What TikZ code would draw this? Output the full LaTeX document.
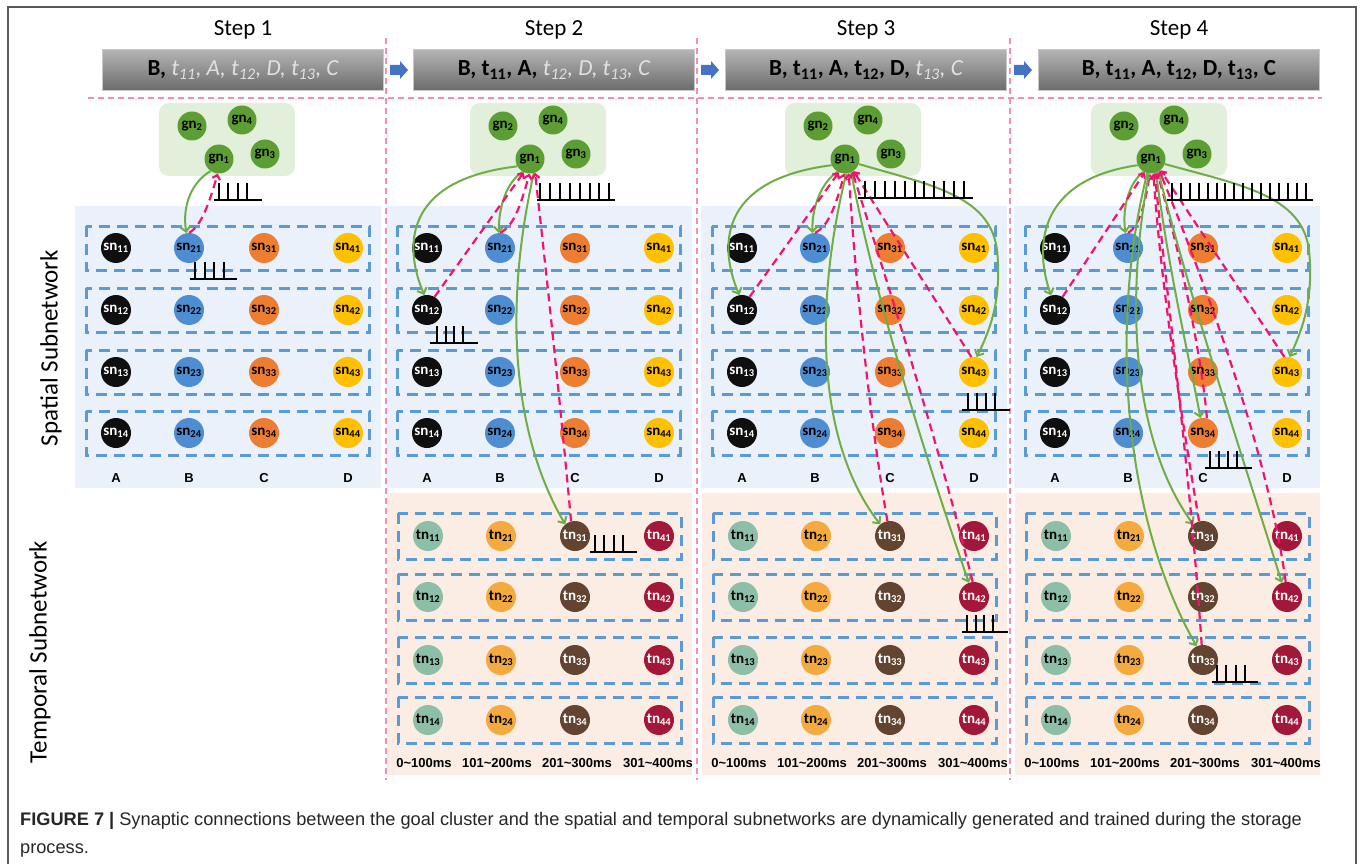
\documentclass[tikz,border=0pt]{standalone}
\usepackage{fontspec}
\setmainfont{Carlito}
\newfontfamily\arialf{Liberation Sans}
\newfontfamily\capf{Liberation Sans}
\usetikzlibrary{arrows.meta}
\definecolor{framegray}{RGB}{90,90,90}
\definecolor{divpink}{RGB}{244,143,177}
\definecolor{conpink}{RGB}{240,20,110}
\definecolor{congreen}{RGB}{112,173,71}
\definecolor{arrowblue}{RGB}{68,114,196}
\definecolor{rowblue}{RGB}{91,155,213}
\definecolor{spbg}{RGB}{234,241,250}
\definecolor{tmbg}{RGB}{251,237,228}
\definecolor{gclbg}{RGB}{226,239,218}
\definecolor{gngreen}{RGB}{92,158,52}
\definecolor{snblack}{RGB}{15,15,15}
\definecolor{snblue}{RGB}{78,141,210}
\definecolor{snorange}{RGB}{237,125,49}
\definecolor{snyellow}{RGB}{255,192,0}
\definecolor{tnteal}{RGB}{140,190,168}
\definecolor{tnamber}{RGB}{244,170,62}
\definecolor{tnbrown}{RGB}{98,68,48}
\definecolor{tncrimson}{RGB}{163,24,58}
\definecolor{barTop}{RGB}{180,180,180}
\definecolor{barBot}{RGB}{108,108,108}
\definecolor{barEdge}{RGB}{200,200,200}
\definecolor{bartxt}{RGB}{225,225,225}
\newcommand\lighttxt[1]{{\color{bartxt}\itshape #1}}
\newcommand\spiketrain[6]{%
  \draw[spike] (#1,#2) -- (#6,#2);
  \foreach \ii in {1,...,#4} \draw[spike] ({#3+(\ii-1)*#5},#2) -- ++(0,-17);
}
\newcommand\bluearrow[2]{%
  \fill[arrowblue] ({#1-9},{#2-5}) -- ({#1+1},{#2-5}) -- ({#1+1},{#2-9}) -- ({#1+9},#2) -- ({#1+1},{#2+9}) -- ({#1+1},{#2+5}) -- ({#1-9},{#2+5}) -- cycle;
}
\begin{document}
\begin{tikzpicture}[x=1pt,y=-1pt,
  neuron/.style={circle, minimum size=30pt, inner sep=0pt, font=\bfseries\fontsize{15}{15}\selectfont},
  gnode/.style={neuron, minimum size=29pt, fill=gngreen, text=black},
  collab/.style={font=\arialf\bfseries\fontsize{13}{13}\selectfont, inner sep=0pt},
  garr/.style={draw=congreen, line width=2pt, -{Straight Barb[length=5pt,width=10pt]}},
  parr/.style={draw=conpink, line width=2.2pt, dash pattern=on 8pt off 5pt, -{Straight Barb[length=4pt,width=8pt]}},
  spike/.style={black, line width=2pt},
  divider/.style={divpink, line width=1.5pt, dash pattern=on 6pt off 4pt},
  rowbox/.style={rowblue, line width=3pt, dash pattern=on 11pt off 7pt},
  bar/.style={minimum width=281pt, minimum height=41pt, top color=barTop, bottom color=barBot, draw=barEdge, line width=0.8pt, font=\fontsize{23}{26}\selectfont, text=black, inner sep=0pt},
  steplab/.style={font=\fontsize{23}{26}\selectfont, inner sep=0pt},
  sublab/.style={font=\fontsize{25}{28}\selectfont, inner sep=0pt, rotate=90}
]
\useasboundingbox (0,0) rectangle (1363,864);
\fill[white] (0,0) rectangle (1363,864);
\draw[framegray, line width=1.2pt] (8,864) -- (8,7) -- (1356,7) -- (1356,864);

% static parts per step
\foreach \stepn/\xoff/\gsh in {1/0/0,2/311/0,3/626/0,4/939/-7}{
  \fill[spbg] ({75+\xoff},206) rectangle ({381+\xoff},488);
  \fill[gclbg, rounded corners=10pt] ({159+\xoff+\gsh},103) rectangle ({295+\xoff+\gsh},176);
  \foreach \ry in {248,310,372,433}
    \draw[rowbox] ({86+\xoff},{\ry-22}) rectangle ({369+\xoff},{\ry+22});
  \foreach \cc/\cx/\fcol/\tcol in {1/116/snblack/white,2/189/snblue/black,3/264/snorange/black,4/348/snyellow/black}{
    \foreach \rr/\ry in {1/248,2/310,3/372,4/433}
      \node[neuron, fill=\fcol, text=\tcol] (s\stepn-sn\cc\rr) at ({\cx+\xoff},\ry) {sn\textsubscript{\cc\rr}};
  }
  \foreach \ll/\cx in {A/116,B/189,C/264,D/348}
    \node[collab] (s\stepn-lab\ll) at ({\cx+\xoff},478) {\ll};
  \node[gnode] (s\stepn-gn2) at ({192+\xoff+\gsh},126) {gn\textsubscript{2}};
  \node[gnode] (s\stepn-gn4) at ({242+\xoff+\gsh},120) {gn\textsubscript{4}};
  \node[gnode] (s\stepn-gn1) at ({219+\xoff+\gsh},159) {gn\textsubscript{1}};
  \node[gnode] (s\stepn-gn3) at ({265+\xoff+\gsh},154) {gn\textsubscript{3}};
}
\foreach \stepn/\xoff in {2/311,3/626,4/939}{
  \fill[tmbg] ({76+\xoff},493) rectangle ({381+\xoff},775);
  \foreach \ry in {536,597,660,720}
    \draw[rowbox] ({87+\xoff},{\ry-23}) rectangle ({370+\xoff},{\ry+23});
  \foreach \cc/\cx/\fcol/\tcol in {1/117/tnteal/black,2/190/tnamber/black,3/264/tnbrown/white,4/348/tncrimson/white}{
    \foreach \rr/\ry in {1/536,2/597,3/660,4/720}
      \node[neuron, fill=\fcol, text=\tcol] (s\stepn-tn\cc\rr) at ({\cx+\xoff},\ry) {tn\textsubscript{\cc\rr}};
  }
  \node[collab] (s\stepn-tlab1) at ({113+\xoff},763) {0\textasciitilde100ms};
  \node[collab] (s\stepn-tlab2) at ({186+\xoff},763) {101\textasciitilde200ms};
  \node[collab] (s\stepn-tlab3) at ({266+\xoff},763) {201\textasciitilde300ms};
  \node[collab] (s\stepn-tlab4) at ({347+\xoff},763) {301\textasciitilde400ms};
}

% dividers
\draw[divider] (88,98) -- (1322,98);
\foreach \xx in {386,697,1010} \draw[divider] (\xx,38) -- (\xx,780);

% headers
\node[steplab] (s1-step) at (243,30) {Step 1};
\node[steplab] (s2-step) at (554,30) {Step 2};
\node[steplab] (s3-step) at (866,30) {Step 3};
\node[steplab] (s4-step) at (1179,30) {Step 4};
\node[bar] (s1-bar) at (243,70) {{\bfseries B,} \lighttxt{t\textsubscript{11}, A, t\textsubscript{12}, D, t\textsubscript{13}, C}};
\node[bar] (s2-bar) at (554,70) {{\bfseries B, t\textsubscript{11}, A,} \lighttxt{t\textsubscript{12}, D, t\textsubscript{13}, C}};
\node[bar] (s3-bar) at (866,70) {{\bfseries B, t\textsubscript{11}, A, t\textsubscript{12}, D,} \lighttxt{t\textsubscript{13}, C}};
\node[bar] (s4-bar) at (1179,70) {{\bfseries B, t\textsubscript{11}, A, t\textsubscript{12}, D, t\textsubscript{13}, C}};
\bluearrow{399}{70}
\bluearrow{710}{70}
\bluearrow{1023}{70}

\node[sublab] (splab) at (51,348) {Spatial Subnetwork};
\node[sublab] (tmlab) at (40,652) {Temporal Subnetwork};

% Step 1 connections
\draw[garr] (s1-gn1.235) .. controls (192,182) and (182,205) .. (s1-sn21.100);
\draw[parr] (s1-sn21.north) .. controls (202,226) and (210,200) .. (s1-gn1.265);

% Step 2
\draw[garr] (s2-gn1.240) .. controls (507,182) and (499,205) .. (s2-sn21.95);
\draw[parr] (s2-sn21.north) .. controls (515,226) and (522,200) .. (s2-gn1.268);
\draw[garr] (s2-gn1.210) .. controls (400,180) and (405,250) .. (s2-sn12.100);
\draw[parr] (s2-sn12.60) -- (s2-gn1.245);
\draw[garr] (s2-gn1.285) .. controls (505,300) and (510,430) .. (s2-tn31.130);
\draw[parr] (s2-tn31.105) .. controls (560,400) and (545,260) .. (s2-gn1.290);

% Step 3
\draw[garr] (s3-gn1.240) .. controls (822,182) and (812,205) .. (s3-sn21.100);
\draw[parr] (s3-sn21.north) .. controls (830,226) and (837,200) .. (s3-gn1.268);
\draw[garr] (s3-gn1.205) .. controls (715,180) and (720,250) .. (s3-sn12.100);
\draw[parr] (s3-sn12.60) -- (s3-gn1.245);
\draw[garr] (s3-gn1.340) .. controls (930,185) and (990,195) .. (997,250) .. controls (1002,300) and (990,330) .. (s3-sn43.80);
\draw[parr] (s3-sn43.100) -- (s3-gn1.305);
\draw[garr] (s3-gn1.275) .. controls (815,300) and (815,440) .. (s3-tn31.130);
\draw[parr] (s3-tn31.100) .. controls (870,420) and (855,280) .. (s3-gn1.285);
\draw[garr] (s3-gn1.295) .. controls (875,300) and (930,470) .. (s3-tn42.110);
\draw[parr] (s3-tn42.95) .. controls (935,430) and (880,260) .. (s3-gn1.300);

% Step 4
\draw[garr] (s4-gn1.240) .. controls (1130,182) and (1122,205) .. (s4-sn21.100);
\draw[parr] (s4-sn21.north) .. controls (1140,226) and (1146,200) .. (s4-gn1.265);
\draw[garr] (s4-gn1.205) .. controls (1035,180) and (1035,250) .. (s4-sn12.105);
\draw[parr] (s4-sn12.60) -- (s4-gn1.245);
\draw[garr] (s4-gn1.340) .. controls (1240,185) and (1302,195) .. (1309,250) .. controls (1314,300) and (1302,330) .. (s4-sn43.80);
\draw[parr] (s4-sn43.100) -- (s4-gn1.310);
\draw[garr] (s4-gn1.290) .. controls (1170,280) and (1192,370) .. (s4-sn34.100);
\draw[parr] (s4-sn34.75) .. controls (1202,360) and (1182,260) .. (s4-gn1.295);
\draw[garr] (s4-gn1.262) .. controls (1125,300) and (1132,440) .. (s4-tn31.130);
\draw[garr] (s4-gn1.255) .. controls (1108,330) and (1125,520) .. (s4-tn33.115);
\draw[parr] (s4-tn31.105) .. controls (1182,420) and (1160,280) .. (s4-gn1.280);
\draw[parr] (s4-tn33.95) .. controls (1190,470) and (1165,280) .. (s4-gn1.285);
\draw[garr] (s4-gn1.300) .. controls (1190,300) and (1250,480) .. (s4-tn42.110);
\draw[parr] (s4-tn42.95) .. controls (1268,450) and (1200,270) .. (s4-gn1.305);

% spike trains
\spiketrain{214}{200}{219}{4}{9.3}{262}
\spiketrain{190}{279}{195}{4}{9.5}{237}
\spiketrain{537}{200}{540}{8}{9.9}{615}
\spiketrain{430}{343}{437}{4}{8.5}{478}
\spiketrain{590}{552}{595}{4}{9.3}{637}
\spiketrain{858}{198}{865}{11}{9.9}{973}
\spiketrain{962}{410}{968}{4}{9}{1010}
\spiketrain{962}{632}{967}{4}{8.7}{1008}
\spiketrain{1167}{200}{1172}{16}{8.9}{1313}
\spiketrain{1205}{468}{1210}{4}{9}{1252}
\spiketrain{1212}{682}{1217}{4}{9.3}{1258}

% caption
\node[anchor=base west, align=left, inner sep=0pt, font=\capf\fontsize{18.2}{28}\selectfont, text=black!85] (cap) at (20,853) {{\bfseries FIGURE 7 |} Synaptic connections between the goal cluster and the spatial and temporal subnetworks are dynamically generated and trained during the storage\\process.};
\end{tikzpicture}
\end{document}
